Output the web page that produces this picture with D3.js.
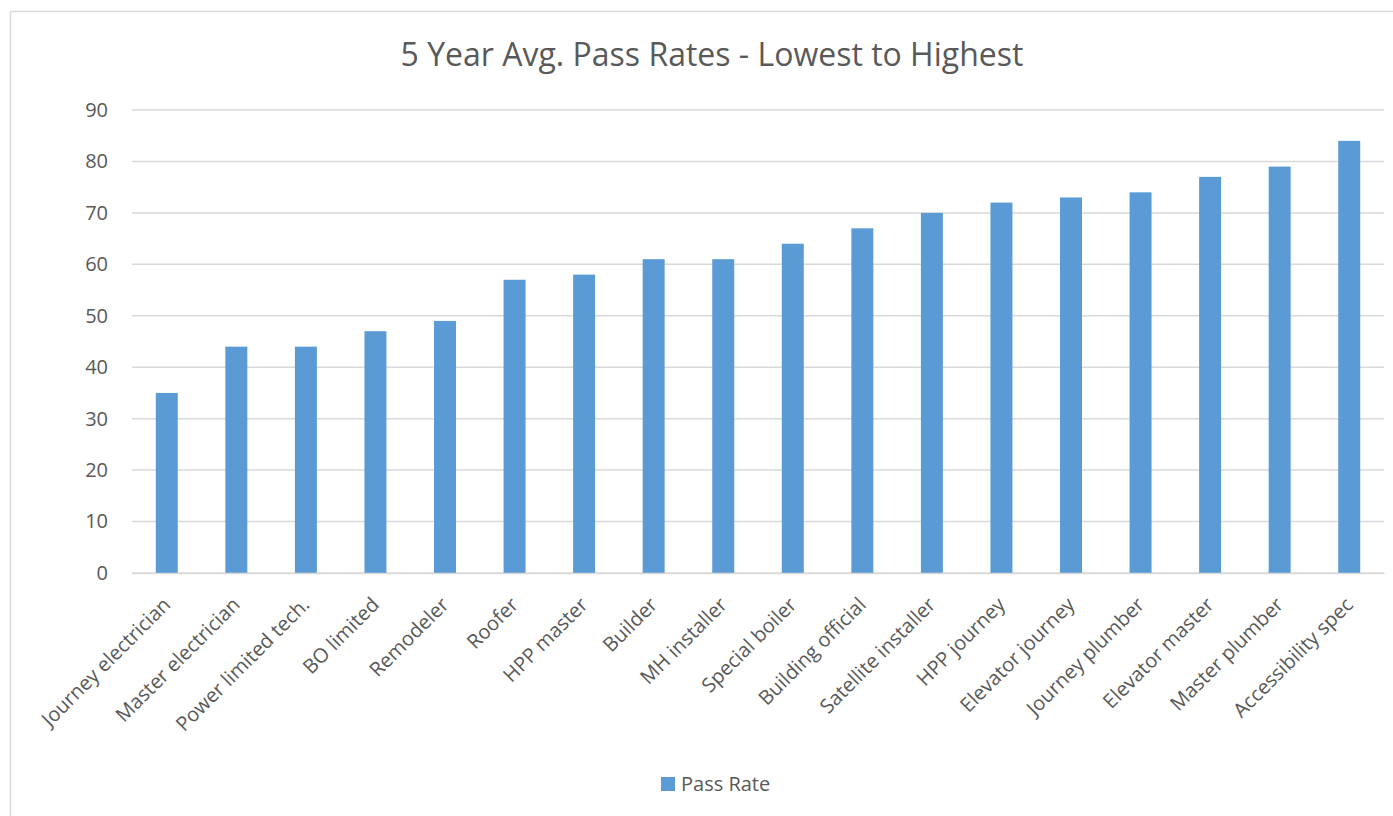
<!DOCTYPE html>
<html>
<head>
  <meta charset='utf-8'>
  <title>5 Year Avg. Pass Rates</title>
  <style>
    body { margin: 0; background: #fff; }
    text { font-family: "Open Sans", "Noto Sans", sans-serif; fill: #595959; }
  </style>
</head>
<body>
<div id="chart"></div>
<script src="https://d3js.org/d3.v7.min.js"></script>
<script>
  // chart values
  var categories = ["Journey electrician", "Master electrician", "Power limited tech.", "BO limited",
    "Remodeler", "Roofer", "HPP master", "Builder", "MH installer", "Special boiler",
    "Building official", "Satellite installer", "HPP journey", "Elevator journey",
    "Journey plumber", "Elevator master", "Master plumber", "Accessibility spec"];
  var passRates = [35, 44, 44, 47, 49, 57, 58, 61, 61, 64, 67, 70, 72, 73, 74, 77, 79, 84];
  var yTicks = [0, 10, 20, 30, 40, 50, 60, 70, 80, 90];
  var seriesName = "Pass Rate";
  var chartTitle = "5 Year Avg. Pass Rates - Lowest to Highest";

  const BAR_COLOR = "#5b9bd5";
  const GRID_COLOR = "#d9d9d9";

  var W = 1393, H = 816;
  var margin = { top: 110, right: 9, bottom: 243, left: 132 },
    width = W - margin.left - margin.right,
    height = H - margin.top - margin.bottom;

  var root = d3.select("#chart").append("svg")
    .attr("width", W)
    .attr("height", H);

  // outer chart border
  root.append("rect")
    .attr("x", 10.5).attr("y", 11.5)
    .attr("width", 1400).attr("height", 830)
    .attr("fill", "none")
    .attr("stroke", GRID_COLOR)
    .attr("stroke-width", 1.5);

  root.append("text")
    .attr("x", 712).attr("y", 66)
    .attr("text-anchor", "middle")
    .style("font-size", "32px")
    .text(chartTitle);

  var svg = root.append("g")
    .attr("transform", "translate(" + margin.left + "," + margin.top + ")");

  var x = d3.scaleBand()
    .domain(categories)
    .range([0, width])
    .paddingInner(0.684)
    .paddingOuter(0.342);

  var y = d3.scaleLinear()
    .domain([0, 90])
    .range([height, 0]);

  // gridlines
  svg.append("g")
    .selectAll("line")
    .data(yTicks)
    .enter().append("line")
    .attr("x1", 0).attr("x2", width)
    .attr("y1", function (d) { return y(d); })
    .attr("y2", function (d) { return y(d); })
    .attr("stroke", GRID_COLOR)
    .attr("stroke-width", 1.5);

  // y axis labels
  var yAxis = svg.append("g")
    .call(d3.axisLeft(y).tickValues(yTicks).tickSize(0).tickPadding(24));
  yAxis.select(".domain").remove();
  yAxis.selectAll("text").style("font-size", "20px");

  // bars
  svg.append("g")
    .selectAll("rect")
    .data(passRates)
    .enter().append("rect")
    .attr("x", function (d, i) { return x(categories[i]); })
    .attr("y", function (d) { return y(d); })
    .attr("width", x.bandwidth())
    .attr("height", function (d) { return height - y(d); })
    .attr("fill", BAR_COLOR);

  // x axis
  var xAxis = svg.append("g")
    .attr("transform", "translate(0," + height + ")")
    .call(d3.axisBottom(x).tickSize(0).tickPadding(0));
  xAxis.select(".domain").attr("stroke", GRID_COLOR).attr("stroke-width", 1.5);
  xAxis.selectAll("text")
    .style("font-size", "20px")
    .attr("text-anchor", "end")
    .attr("dy", "0.35em")
    .attr("transform", "translate(0,28) rotate(-45)");

  // legend
  root.append("rect")
    .attr("x", 661).attr("y", 777)
    .attr("width", 14).attr("height", 14)
    .attr("fill", BAR_COLOR);
  root.append("text")
    .attr("x", 681).attr("y", 791)
    .style("font-size", "20px")
    .text(seriesName);
</script>
</body>
</html>
